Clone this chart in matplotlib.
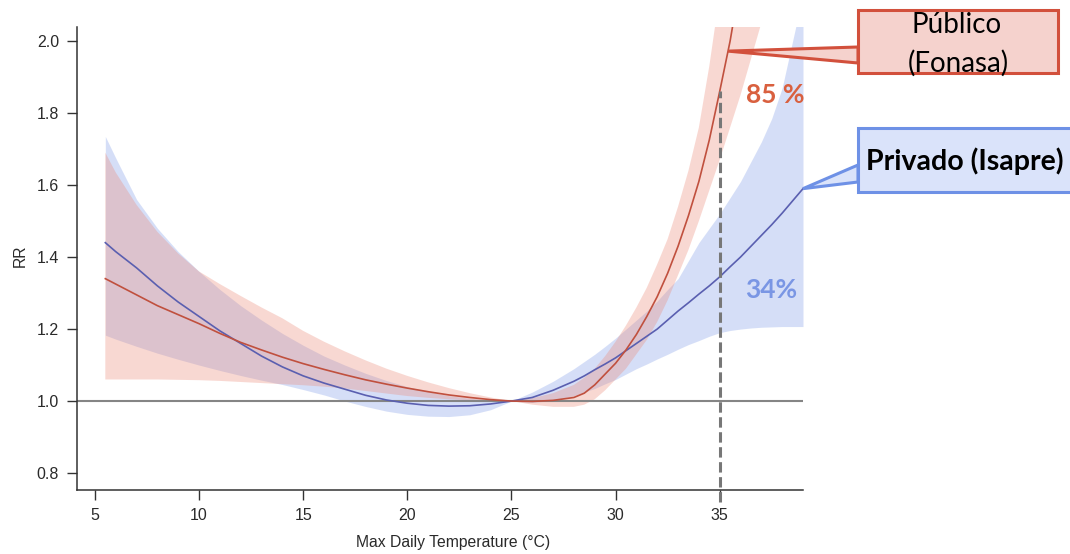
import matplotlib
matplotlib.use("Agg")
import matplotlib.pyplot as plt
import matplotlib.patches as mpatches
import numpy as np

# temperatura maxima diaria (C)
temp = [5.5, 6, 7, 8, 9, 10, 11, 12, 13, 14, 15, 16, 17, 18, 19, 20, 21, 22, 23, 24,
        25, 26, 27, 28, 28.5, 29, 29.5, 30, 30.5, 31, 31.5, 32, 32.5, 33, 33.5, 34,
        34.5, 35, 35.5, 36, 36.5, 37, 37.5, 38, 38.5, 39]

# Publico (Fonasa)
publico_rr = [1.34, 1.325, 1.295, 1.265, 1.24, 1.215, 1.188, 1.163, 1.142, 1.122, 1.104,
              1.088, 1.073, 1.059, 1.047, 1.036, 1.026, 1.017, 1.01, 1.004,
              1.0, 0.999, 1.002, 1.01, 1.022, 1.045, 1.075, 1.105, 1.142, 1.185, 1.235,
              1.29, 1.355, 1.43, 1.515, 1.61, 1.725, 1.86, 2.0, 2.17, 2.36, 2.57, 2.8,
              3.05, 3.32, 3.6]
publico_hi = [1.69, 1.635, 1.545, 1.47, 1.41, 1.36, 1.325, 1.292, 1.26, 1.23, 1.195,
              1.165, 1.138, 1.113, 1.09, 1.07, 1.052, 1.036, 1.022, 1.01,
              1.0, 1.008, 1.022, 1.045, 1.065, 1.09, 1.125, 1.165, 1.21, 1.26, 1.315,
              1.38, 1.45, 1.54, 1.64, 1.76, 1.93, 2.13, 2.36, 2.62, 2.9, 3.2, 3.5,
              3.85, 4.2, 4.6]
publico_lo = [1.06, 1.06, 1.06, 1.06, 1.059, 1.058, 1.056, 1.053, 1.05, 1.047, 1.044,
              1.04, 1.035, 1.028, 1.021, 1.014, 1.009, 1.005, 1.002, 1.0,
              1.0, 0.99, 0.984, 0.984, 0.99, 1.005, 1.03, 1.06, 1.09, 1.13, 1.17,
              1.22, 1.28, 1.35, 1.42, 1.5, 1.585, 1.67, 1.76, 1.85, 1.95, 2.05, 2.16,
              2.28, 2.4, 2.52]

# Privado (Isapre)
privado_rr = [1.44, 1.415, 1.37, 1.32, 1.275, 1.235, 1.195, 1.16, 1.125, 1.095, 1.07,
              1.05, 1.033, 1.016, 1.003, 0.994, 0.988, 0.986, 0.987, 0.992,
              1.0, 1.01, 1.03, 1.055, 1.07, 1.087, 1.103, 1.12, 1.14, 1.16, 1.18,
              1.2, 1.225, 1.25, 1.273, 1.297, 1.32, 1.345, 1.373, 1.4, 1.43, 1.46, 1.49,
              1.522, 1.556, 1.59]
privado_hi = [1.735, 1.675, 1.56, 1.48, 1.415, 1.36, 1.31, 1.265, 1.225, 1.188, 1.155,
              1.125, 1.1, 1.077, 1.057, 1.04, 1.026, 1.015, 1.008, 1.003,
              1.0, 1.025, 1.055, 1.09, 1.11, 1.13, 1.152, 1.175, 1.2, 1.225, 1.25,
              1.278, 1.31, 1.34, 1.39, 1.44, 1.48, 1.52, 1.565, 1.61, 1.665, 1.72, 1.785,
              1.87, 2.0, 2.13]
privado_lo = [1.183, 1.172, 1.152, 1.133, 1.116, 1.1, 1.085, 1.071, 1.058, 1.046, 1.032,
              1.017, 1.0, 0.985, 0.972, 0.963, 0.958, 0.957, 0.962, 0.976,
              1.0, 0.996, 1.002, 1.015, 1.025, 1.035, 1.048, 1.06, 1.075, 1.09, 1.103,
              1.117, 1.13, 1.144, 1.157, 1.168, 1.18, 1.19, 1.196, 1.2, 1.203, 1.205, 1.206,
              1.207, 1.207, 1.207]

x_ticks = [5, 10, 15, 20, 25, 30, 35]
y_ticks = [0.8, 1.0, 1.2, 1.4, 1.6, 1.8, 2.0]
t_ref = 35

W, H = 1070, 554
fig = plt.figure(figsize=(W / 100, H / 100), dpi=100)
ax = fig.add_axes([77 / W, 1 - 490 / H, (803 - 77) / W, (490 - 27) / H])

ax.fill_between(temp, privado_lo, privado_hi, color="#7f9be8", alpha=0.32, lw=0)
ax.fill_between(temp, publico_lo, publico_hi, color="#ec8a78", alpha=0.33, lw=0)
ax.axhline(1.0, color="#858585", lw=1.5)
ax.plot(temp, privado_rr, color="#5a5fb0", lw=1.2)
ax.plot(temp, publico_rr, color="#c0503e", lw=1.2)

rr_ref = publico_rr[temp.index(t_ref)]
ax.plot([t_ref, t_ref], [0.72, rr_ref], color="#777777", lw=2.2, ls=(0, (3.4, 1.5)),
        clip_on=False)

ax.set_xlim(4.14, 39.0)
ax.set_ylim(0.753, 2.039)
ax.set_xticks(x_ticks)
ax.set_yticks(y_ticks)
ax.set_yticklabels([f"{v:.1f}" for v in y_ticks])
for s in ["top", "right"]:
    ax.spines[s].set_visible(False)
for s in ["left", "bottom"]:
    ax.spines[s].set_color("#333333")
    ax.spines[s].set_linewidth(1.1)
ax.tick_params(direction="out", length=7, width=1, color="#333333",
               labelsize=11.5, labelcolor="#2a2a2a", pad=6)
for lab in ax.get_xticklabels() + ax.get_yticklabels():
    lab.set_family("Liberation Sans")

ax.set_xlabel("Max Daily Temperature (°C)", family="Liberation Sans", fontsize=11.3,
              color="#2a2a2a")
ax.set_ylabel("RR", family="Liberation Sans", fontsize=11.3, color="#2a2a2a")
ax.xaxis.set_label_coords((453 - 77) / 726, (490 - 535) / 463)
ax.yaxis.set_label_coords((28 - 77) / 726, (490 - 256) / 463)


def fxy(x, y):
    return (x / W, 1 - y / H)


def tip_of(t, v):
    disp = ax.transData.transform((t, v))
    fx, fy = fig.transFigure.inverted().transform(disp)
    return (fx, fy)


# callout Publico
tip_pub = tip_of(35.4, np.interp(35.4, temp, publico_rr))
fig.add_artist(mpatches.Polygon([fxy(858, 47), tip_pub, fxy(858, 63)], closed=True,
                                transform=fig.transFigure, fc="#f5d2cd", ec="#d2503c",
                                lw=2.2, joinstyle="miter"))
fig.add_artist(mpatches.Rectangle(fxy(858, 73), 200 / W, 63 / H, transform=fig.transFigure,
                                  fc="#f5d2cd", ec="#d2503c", lw=2.2))
fig.text(*fxy(957, 33), "Público", ha="center", va="baseline", fontsize=20,
         family="Lato", color="black")
fig.text(*fxy(958, 72), "(Fonasa)", ha="center", va="baseline", fontsize=20,
         family="Lato", color="black")

# callout Privado
tip_pri = tip_of(temp[-1], privado_rr[-1])
fig.add_artist(mpatches.Polygon([fxy(858, 165), tip_pri, fxy(858, 182)], closed=True,
                                transform=fig.transFigure, fc="#dae3fa", ec="#6e91e6",
                                lw=2.2, joinstyle="miter"))
fig.add_artist(mpatches.Rectangle(fxy(858, 192), 220 / W, 64 / H, transform=fig.transFigure,
                                  fc="#dae3fa", ec="#6e91e6", lw=2.2))
fig.text(*fxy(965, 170), "Privado (Isapre)", ha="center", va="baseline", fontsize=20.5,
         family="Lato", weight="bold", color="black")

fig.text(*fxy(775, 103), "85 %", ha="center", va="baseline", fontsize=19,
         family="Lato", weight="bold", color="#d9603f")
fig.text(*fxy(771, 298), "34%", ha="center", va="baseline", fontsize=19,
         family="Lato", weight="bold", color="#7a96e4")

fig.savefig("out.png", dpi=100)
